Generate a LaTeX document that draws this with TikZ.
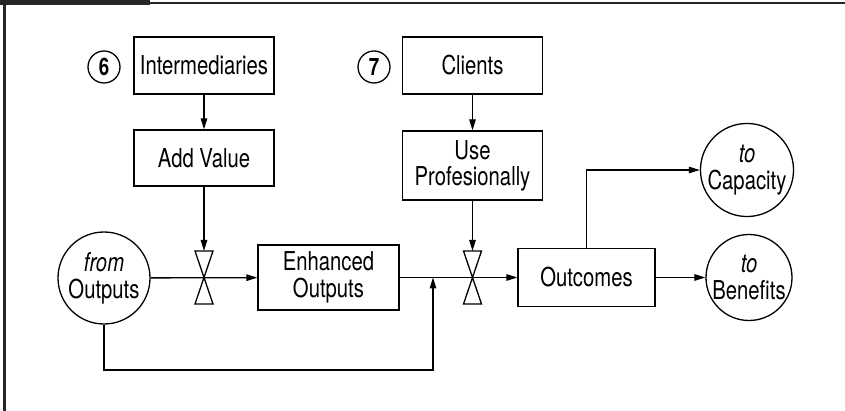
\documentclass[tikz,border=0pt]{standalone}
\usepackage{fontspec}
\setmainfont{TeX Gyre Heros}[FakeStretch=0.78]
\usetikzlibrary{arrows.meta}
\begin{document}
\begin{tikzpicture}[x=1pt,y=-1pt,
  every node/.style={font=\fontsize{26}{27}\selectfont, align=center, inner sep=0pt},
  box/.style={draw, line width=1.3pt, minimum width=140pt},
  term/.style={draw, circle, line width=1.3pt, minimum size=#1},
  numcirc/.style={draw, circle, line width=1.3pt, minimum size=32pt, font=\fontsize{24}{24}\selectfont\bfseries},
  link/.style={line width=1.3pt, -{Triangle[length=11pt,width=6.5pt]}},
  valve/.style={draw, line width=1.3pt, fill=white},
  frame/.style={draw=black!85, line width=2.5pt}]
\useasboundingbox (0,0) rectangle (845,411);

% frame and tab
\fill[black!85] (0,0) rectangle (150,5);
\draw[frame] (0,3) -- (845,3);
\draw[frame] (4.5,0) -- (4.5,411);

% numbered markers
\node[numcirc] (n6) at (104,67) {6};
\node[numcirc] (n7) at (374,67) {7};

% boxes
\node[box, minimum height=57pt] (interm) at (204,65.5) {Intermediaries};
\node[box, minimum height=56pt] (addval) at (204,158) {Add Value};
\node[box, minimum height=57pt] (clients) at (472.5,65.5) {Clients};
\node[box, minimum height=69pt] (usepro) at (472.5,165.5) {Use\\[-1pt]Profesionally};
\node[box, minimum width=141pt, minimum height=65pt] (enh) at (328.5,277.5) {Enhanced\\Outputs};
\node[box, minimum width=137pt, minimum height=58pt] (outc) at (586.5,277.5) {Outcomes};

% terminal circles
\node[term=92pt] (fromout) at (104,278) {{\itshape from}\\Outputs};
\node[term=86pt] (cap) at (747,170) {{\itshape to}\\Capacity};
\node[term=86pt] (ben) at (749,277.5) {{\itshape to}\\Benefits};

% valve centres and their top edges
\coordinate (v1) at (204,277.5);
\coordinate (v2) at (472.5,277.5);
\coordinate (v1top) at (204,251);
\coordinate (v2top) at (472.5,251);

% connectors
\draw[link] (interm) -- (addval);
\draw[link] (clients) -- (usepro);
\draw[link] (addval) -- (v1top);
\draw[link] (usepro) -- (v2top);
\draw[link] (fromout) -- (enh);
\draw[link] (enh) -- (outc);
\draw[link] (outc.north) |- (cap.west);
\draw[link] (outc) -- (ben);
\coordinate (fb) at (433,370);
\draw[link] (fromout.south) |- (fb) -- (fb |- enh.east);

% valves (hourglass shapes on the main line)
\foreach \v in {v1,v2}
  \draw[valve] ([shift={(-9,-26.5)}]\v) -- ([shift={(9,-26.5)}]\v)
    -- ([shift={(-9,26.5)}]\v) -- ([shift={(9,26.5)}]\v) -- cycle;
\end{tikzpicture}
\end{document}
